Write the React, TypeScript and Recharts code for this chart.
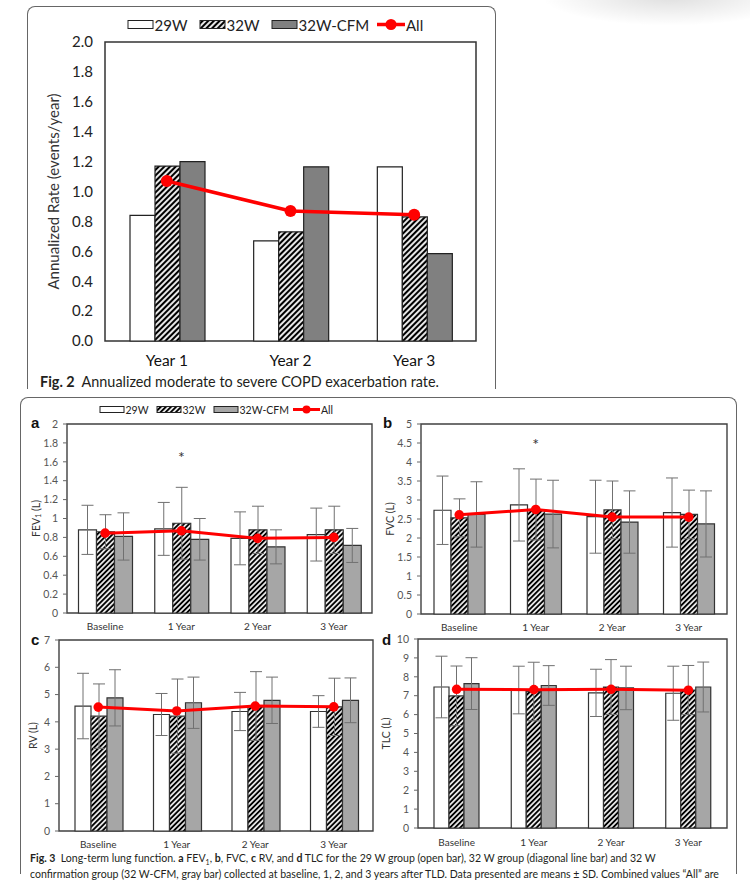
import React from 'react';
import { ComposedChart, Bar, Line, XAxis, YAxis, ErrorBar, ReferenceArea, ReferenceDot } from 'recharts';

const FONT = 'Lato, "Open Sans", sans-serif';

// Fig. 2 - annualized moderate to severe exacerbation rate
const years = ['Year 1', 'Year 2', 'Year 3'];
const rate29W = [0.84, 0.67, 1.165];
const rate32W = [1.17, 0.73, 0.83];
const rateCFM = [1.2, 1.165, 0.585];
const rateAll = [1.07, 0.87, 0.845];
const rateTicks = [0, 0.2, 0.4, 0.6, 0.8, 1.0, 1.2, 1.4, 1.6, 1.8, 2.0];

// Fig. 3 - lung function (mean, SD)
const visits = ['Baseline', '1 Year', '2 Year', '3 Year'];

const fev29W = [0.88, 0.89, 0.79, 0.83];
const fev29WSd = [0.26, 0.28, 0.28, 0.28];
const fev32W = [0.86, 0.95, 0.88, 0.88];
const fev32WSd = [0.18, 0.38, 0.25, 0.25];
const fevCFM = [0.81, 0.78, 0.7, 0.715];
const fevCFMSd = [0.25, 0.22, 0.18, 0.18];
const fevAll = [0.845, 0.87, 0.79, 0.8];
const fevStar = [null, 1.66, null, null];
const fevTicks = [0, 0.2, 0.4, 0.6, 0.8, 1, 1.2, 1.4, 1.6, 1.8, 2];

const fvc29W = [2.73, 2.87, 2.56, 2.67];
const fvc29WSd = [0.9, 0.95, 0.96, 0.91];
const fvc32W = [2.53, 2.75, 2.74, 2.62];
const fvc32WSd = [0.5, 0.8, 0.76, 0.64];
const fvcCFM = [2.62, 2.63, 2.42, 2.37];
const fvcCFMSd = [0.86, 0.89, 0.82, 0.87];
const fvcAll = [2.61, 2.75, 2.55, 2.55];
const fvcStar = [null, 4.5, null, null];
const fvcTicks = [0, 0.5, 1, 1.5, 2, 2.5, 3, 3.5, 4, 4.5, 5];

const rv29W = [4.58, 4.27, 4.38, 4.38];
const rv29WSd = [1.2, 0.77, 0.7, 0.58];
const rv32W = [4.21, 4.21, 4.58, 4.55];
const rv32WSd = [1.18, 1.36, 1.26, 1.05];
const rvCFM = [4.88, 4.7, 4.79, 4.79];
const rvCFMSd = [1.03, 0.94, 0.85, 0.82];
const rvAll = [4.54, 4.4, 4.58, 4.55];
const rvTicks = [0, 1, 2, 3, 4, 5, 6, 7];

const tlc29W = [7.46, 7.3, 7.15, 7.13];
const tlc29WSd = [1.63, 1.26, 1.25, 1.43];
const tlc32W = [6.99, 7.22, 7.46, 7.3];
const tlc32WSd = [1.58, 1.55, 1.45, 1.3];
const tlcCFM = [7.64, 7.54, 7.41, 7.46];
const tlcCFMSd = [1.37, 1.05, 1.15, 1.32];
const tlcAll = [7.34, 7.32, 7.34, 7.29];
const tlcTicks = [0, 1, 2, 3, 4, 5, 6, 7, 8, 9, 10];

const RED = '#ff0000';
const GRAY_DARK = '#808080';
const GRAY_LIGHT = '#a6a6a6';

const Patterns = () => (
  <svg width={0} height={0} style={{ position: 'absolute' }}>
    <defs>
      {[
        { id: 'hatchBig', s: 4, w: 2.2 },
        { id: 'hatchSmall', s: 3.6, w: 2 },
      ].map(({ id, s, w }) => (
        <pattern key={id} id={id} patternUnits="userSpaceOnUse" width={s} height={s} patternTransform="rotate(45)">
          <rect width={s} height={s} fill="#fff" />
          <line x1={s / 2} y1={0} x2={s / 2} y2={s} stroke="#000" strokeWidth={w} />
        </pattern>
      ))}
    </defs>
  </svg>
);

// rotated y-axis title, centred on the plot
const VLabel = (props: any) => {
  const { viewBox, x0, size, body } = props;
  const cy = viewBox.y + viewBox.height / 2;
  return (
    <text
      x={x0}
      y={cy}
      transform={`rotate(-90 ${x0} ${cy})`}
      textAnchor="middle"
      dominantBaseline="central"
      fontSize={size}
      fill="#333"
      fontFamily={FONT}
    >
      {body}
    </text>
  );
};

const StarShape = (p: any) => (
  <text x={p.cx} y={p.cy} dy={7} textAnchor="middle" fontSize={16} fill="#333" fontFamily={FONT}>
    *
  </text>
);

const rateRows = years.map((y, i) => ({ year: y, w29: rate29W[i], w32: rate32W[i], cfm: rateCFM[i], all: rateAll[i] }));

const RateChart = () => (
  <ComposedChart
    width={500}
    height={380}
    data={rateRows}
    margin={{ top: 42, right: 24, bottom: 9, left: 0 }}
    barCategoryGap={25}
    barGap={0}
  >
    <XAxis
      dataKey="year"
      height={30}
      tickSize={0}
      tickMargin={14}
      axisLine={false}
      tickLine={false}
      interval={0}
      tick={{ fontSize: 15.5, fill: '#111', fontFamily: FONT }}
    />
    <YAxis
      domain={[0, 2]}
      ticks={rateTicks}
      interval={0}
      width={105}
      tickFormatter={(v: number) => v.toFixed(1)}
      tickSize={0}
      tickMargin={12}
      axisLine={false}
      tickLine={false}
      tick={{ fontSize: 15, fill: '#222', fontFamily: FONT }}
      label={<VLabel x0={53} size={15} body="Annualized Rate (events/year)" />}
    />
    <ReferenceArea y1={0} y2={2} fill="none" stroke="#333" strokeWidth={1.5} ifOverflow="visible" />
    <Bar dataKey="w29" fill="#fff" stroke="#222" strokeWidth={1.2} isAnimationActive={false} />
    <Bar dataKey="w32" fill="url(#hatchBig)" stroke="#222" strokeWidth={1.2} isAnimationActive={false} />
    <Bar dataKey="cfm" fill={GRAY_DARK} stroke="#222" strokeWidth={1.2} isAnimationActive={false} />
    <Line
      dataKey="all"
      stroke={RED}
      strokeWidth={3.5}
      dot={{ r: 6, fill: RED, stroke: RED, strokeWidth: 0 }}
      activeDot={false}
      isAnimationActive={false}
    />
  </ComposedChart>
);

interface PanelProps {
  pos: { left: number; top: number; width: number; height: number };
  margin: { top: number; right: number; bottom: number; left: number };
  yWidth: number;
  xTickMargin: number;
  labelX: number;
  label: React.ReactNode;
  ticks: number[];
  gap: number;
  m29: number[];
  sd29: number[];
  m32: number[];
  sd32: number[];
  mCfm: number[];
  sdCfm: number[];
  all: number[];
  star?: (number | null)[];
}

const Panel = (p: PanelProps) => {
  const rows = visits.map((v, i) => ({
    visit: v,
    w29: p.m29[i],
    w29sd: p.sd29[i],
    w32: p.m32[i],
    w32sd: p.sd32[i],
    cfm: p.mCfm[i],
    cfmsd: p.sdCfm[i],
    all: p.all[i],
  }));
  const max = p.ticks[p.ticks.length - 1];
  const err = { width: 6, strokeWidth: 1, stroke: '#707070', direction: 'y' as const, isAnimationActive: false };
  return (
    <div style={{ position: 'absolute', left: p.pos.left, top: p.pos.top }}>
      <ComposedChart
        width={p.pos.width}
        height={p.pos.height}
        data={rows}
        margin={p.margin}
        barCategoryGap={p.gap}
        barGap={0}
      >
        <XAxis
          dataKey="visit"
          height={20}
          tickSize={0}
          tickMargin={p.xTickMargin}
          axisLine={false}
          tickLine={false}
          interval={0}
          tick={{ fontSize: 10, fill: '#333', fontFamily: FONT }}
        />
        <YAxis
          domain={[0, max]}
          ticks={p.ticks}
          interval={0}
          width={p.yWidth}
          tickSize={4}
          tickMargin={5}
          axisLine={false}
          tickLine={{ stroke: '#666' }}
          tick={{ fontSize: 10.5, fill: '#555', fontFamily: FONT }}
          label={<VLabel x0={p.labelX} size={10.5} body={p.label} />}
        />
        <ReferenceArea y1={0} y2={max} fill="none" stroke="#404040" strokeWidth={1.4} ifOverflow="visible" />
        <Bar dataKey="w29" fill="#fff" stroke="#333" strokeWidth={1.2} isAnimationActive={false}>
          <ErrorBar dataKey="w29sd" {...err} />
        </Bar>
        <Bar dataKey="w32" fill="url(#hatchSmall)" stroke="#333" strokeWidth={1.2} isAnimationActive={false}>
          <ErrorBar dataKey="w32sd" {...err} />
        </Bar>
        <Bar dataKey="cfm" fill={GRAY_LIGHT} stroke="#333" strokeWidth={1.2} isAnimationActive={false}>
          <ErrorBar dataKey="cfmsd" {...err} />
        </Bar>
        <Line
          dataKey="all"
          stroke={RED}
          strokeWidth={3}
          dot={{ r: 4.8, fill: RED, stroke: RED, strokeWidth: 0 }}
          activeDot={false}
          isAnimationActive={false}
        />
        {(p.star || []).map((s, i) =>
          s == null ? null : <ReferenceDot key={i} x={visits[i]} y={s} r={0} shape={StarShape} />
        )}
      </ComposedChart>
    </div>
  );
};

// legend drawn as svg: 29W open, 32W hatched, 32W-CFM gray, All red line
const LegendRow = (props: {
  xs: number[];
  y: number;
  boxW: number;
  boxH: number;
  gray: string;
  hatch: string;
  fontSize: number;
  lineW: number;
  dotR: number;
}) => {
  const { xs, y, boxW, boxH, gray, hatch, fontSize, lineW, dotR } = props;
  const labels = ['29W', '32W', '32W-CFM', 'All'];
  const fills = ['#fff', `url(#${hatch})`, gray];
  return (
    <svg width={750} height={y + 20} style={{ position: 'absolute', left: 0, top: 0, pointerEvents: 'none' }}>
      {xs.map((x, i) => (
        <g key={labels[i]}>
          {i < 3 ? (
            <rect x={x} y={y - boxH / 2} width={boxW} height={boxH} fill={fills[i]} stroke="#222" strokeWidth={1} />
          ) : (
            <g>
              <line x1={x} x2={x + boxW + 3} y1={y} y2={y} stroke={RED} strokeWidth={lineW} />
              <circle cx={x + (boxW + 3) / 2} cy={y} r={dotR} fill={RED} />
            </g>
          )}
          <text
            x={x + boxW + (i < 3 ? 1.5 : 4)}
            y={y}
            dominantBaseline="central"
            fontSize={fontSize}
            fill="#222"
            fontFamily={FONT}
          >
            {labels[i]}
          </text>
        </g>
      ))}
    </svg>
  );
};

const letterStyle = (left: number, top: number): React.CSSProperties => ({
  position: 'absolute',
  left,
  top,
  fontFamily: '"Liberation Sans", Arial, sans-serif',
  fontWeight: 'bold',
  fontSize: 15,
  lineHeight: '16px',
  color: '#111',
});

const captionLine = (top: number): React.CSSProperties => ({
  position: 'absolute',
  left: 30,
  top,
  fontSize: 12,
  lineHeight: '14px',
  height: 14,
  color: '#231f20',
  whiteSpace: 'nowrap',
  transform: 'scaleX(0.88)',
  transformOrigin: 'left',
});

export default function App() {
  return (
    <div
      style={{
        position: 'absolute',
        left: 0,
        top: 0,
        width: 750,
        height: 882,
        overflow: 'hidden',
        background: '#fff',
        fontFamily: FONT,
      }}
    >
      <Patterns />
      <div
        style={{
          position: 'absolute',
          left: 540,
          top: -34,
          width: 260,
          height: 60,
          background: 'radial-gradient(ellipse at center, rgba(0,0,0,0.13), rgba(0,0,0,0) 70%)',
        }}
      />

      {/* Fig. 2 card */}
      <div
        style={{
          position: 'absolute',
          left: 27,
          top: 6,
          width: 467,
          height: 382,
          border: '1.3px solid #666',
          borderBottom: 'none',
          borderRadius: '8px 8px 0 0',
        }}
      />
      <div style={{ position: 'absolute', left: 0, top: 0 }}>
        <RateChart />
      </div>
      <LegendRow xs={[128, 200, 272, 377]} y={24.5} boxW={25} boxH={8} gray={GRAY_DARK} hatch="hatchBig" fontSize={15} lineW={3.5} dotR={5.5} />
      <div
        style={{
          position: 'absolute',
          left: 40,
          top: 372,
          fontSize: 15,
          lineHeight: '18px',
          color: '#231f20',
          whiteSpace: 'nowrap',
          transform: 'scaleX(0.96)',
          transformOrigin: 'left',
        }}
      >
        <b>Fig. 2</b>&nbsp; Annualized moderate to severe COPD exacerbation rate.
      </div>

      {/* Fig. 3 card */}
      <div
        style={{
          position: 'absolute',
          left: 20,
          top: 397,
          width: 715,
          height: 476,
          border: '1.3px solid #666',
          borderBottom: 'none',
          borderRadius: '8px 8px 0 0',
        }}
      />
      <LegendRow xs={[100, 157, 214, 293]} y={409.5} boxW={24} boxH={6} gray={GRAY_LIGHT} hatch="hatchSmall" fontSize={10.5} lineW={3} dotR={4} />

      <Panel
        pos={{ left: 0, top: 400, width: 380, height: 240 }}
        margin={{ top: 24, right: 8, bottom: 7, left: 0 }}
        yWidth={67}
        xTickMargin={10}
        labelX={36}
        label={
          <>
            <tspan>FEV</tspan>
            <tspan fontSize={7} dy={2}>1</tspan>
            <tspan dy={-2}> (L)</tspan>
          </>
        }
        ticks={fevTicks}
        gap={11.5}
        m29={fev29W}
        sd29={fev29WSd}
        m32={fev32W}
        sd32={fev32WSd}
        mCfm={fevCFM}
        sdCfm={fevCFMSd}
        all={fevAll}
        star={fevStar}
      />
      <Panel
        pos={{ left: 375, top: 400, width: 375, height: 240 }}
        margin={{ top: 24, right: 23, bottom: 6, left: 0 }}
        yWidth={46}
        xTickMargin={9.5}
        labelX={15}
        label="FVC (L)"
        ticks={fvcTicks}
        gap={13}
        m29={fvc29W}
        sd29={fvc29WSd}
        m32={fvc32W}
        sd32={fvc32WSd}
        mCfm={fvcCFM}
        sdCfm={fvcCFMSd}
        all={fvcAll}
        star={fvcStar}
      />
      <Panel
        pos={{ left: 0, top: 615, width: 380, height: 245 }}
        margin={{ top: 25, right: 7, bottom: 9, left: 0 }}
        yWidth={59}
        xTickMargin={9.5}
        labelX={33}
        label="RV (L)"
        ticks={rvTicks}
        gap={16}
        m29={rv29W}
        sd29={rv29WSd}
        m32={rv32W}
        sd32={rv32WSd}
        mCfm={rvCFM}
        sdCfm={rvCFMSd}
        all={rvAll}
      />
      <Panel
        pos={{ left: 375, top: 615, width: 375, height: 245 }}
        margin={{ top: 24, right: 23, bottom: 12, left: 0 }}
        yWidth={43}
        xTickMargin={11}
        labelX={11}
        label="TLC (L)"
        ticks={tlcTicks}
        gap={16}
        m29={tlc29W}
        sd29={tlc29WSd}
        m32={tlc32W}
        sd32={tlc32WSd}
        mCfm={tlcCFM}
        sdCfm={tlcCFMSd}
        all={tlcAll}
      />

      <div style={letterStyle(31, 415)}>a</div>
      <div style={letterStyle(383, 415)}>b</div>
      <div style={letterStyle(31, 632)}>c</div>
      <div style={letterStyle(382, 632)}>d</div>

      <div style={captionLine(851)}>
        <b>Fig. 3</b>&nbsp; Long-term lung function. <b>a</b> FEV
        <span style={{ fontSize: 8, position: 'relative', top: 3 }}>1</span>, <b>b</b>, FVC, <b>c</b> RV, and <b>d</b> TLC
        for the 29 W group (open bar), 32 W group (diagonal line bar) and 32 W
      </div>
      <div style={captionLine(867)}>
        confirmation group (32 W-CFM, gray bar) collected at baseline, 1, 2, and 3 years after TLD. Data presented are means
        ± SD. Combined values “All” are
      </div>
    </div>
  );
}
